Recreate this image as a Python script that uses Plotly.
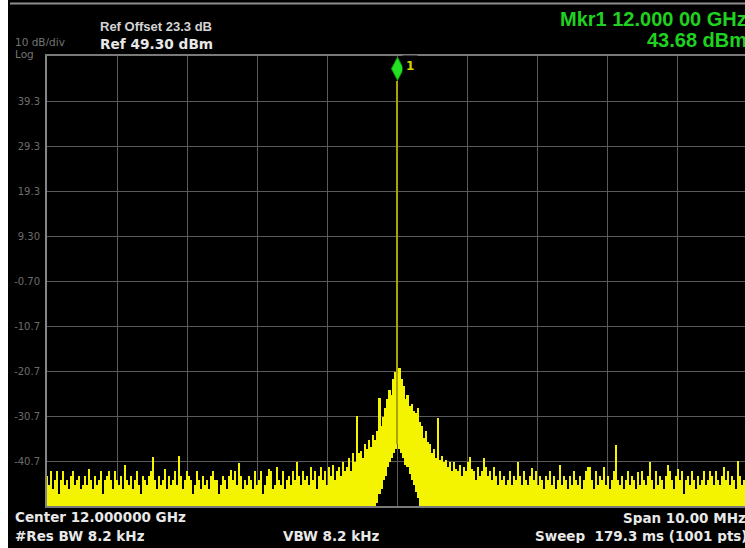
import plotly.graph_objects as go

# ---------------- data ----------------
center_ghz = 12.0
span_mhz = 10.0
ref_level_dbm = 49.30
bottom_level_dbm = -50.70
mkr_offset_mhz = 0.0
mkr_dbm = 43.68

ytick_vals = [39.3, 29.3, 19.3, 9.3, -0.7, -10.7, -20.7, -30.7, -40.7]
ytick_text = ["39.3", "29.3", "19.3", "9.30", "-0.70", "-10.7", "-20.7", "-30.7", "-40.7"]

# per display column: highest level reached by the trace (dBm)
trace_max_dbm = [
    -44, -46, -43, -47, -45, -43, -48, -45, -43, -46,      # 0
    -45, -47, -44, -43, -46, -45, -44, -47, -46, -44,      # 10
    -46, -42.4, -45, -47, -44, -46, -45, -43, -48, -45,    # 20
    -44, -43, -45, -47, -43, -45, -46, -44, -47, -41.6,    # 30
    -45, -46, -44, -47, -45, -43, -46, -48, -44, -45,      # 40
    -46, -44, -43, -39.8, -45, -47, -44, -46, -45, -42.4,  # 50
    -47, -44, -46, -45, -43, -46, -39.5, -44, -47, -45,    # 60
    -43, -44, -45, -48, -46, -43, -45, -47, -44, -46,      # 70
    -45, -47, -44, -43, -45, -45, -48, -46, -44, -45,      # 80
    -47, -44, -42.6, -45, -43, -46, -41.2, -44, -47, -45,  # 90
    -46, -44, -45, -47, -43, -46, -45, -43, -48, -46,      # 100
    -44, -42.4, -43, -47, -46, -42, -45, -46, -43, -47,    # 110
    -45, -44, -46, -43, -45, -41, -44, -46, -43, -45,      # 120
    -44, -46, -42, -45, -43, -47, -44, -42, -45, -43,      # 130
    -46, -42, -44, -41.5, -45, -43, -42, -44, -41, -43,    # 140
    -42, -40, -43, -39, -41, -30.7, -39, -38.5, -40, -37,  # 150
    -38, -36, -37.5, -35, -36, -34, -26.7, -33, -31, -29,  # 160
    -27, -25, -26, -22.5, -21, 43.68, -20, -22.5, -24, -27,  # 170
    -26, -28.5, -28, -29.5, -30, -29, -32, -33, -35.5, -34,  # 180
    -36.5, -37, -39, -38, -40, -31.2, -40.5, -39.5, -41, -40.5,  # 190
    -42, -41, -43, -40.9, -42.5, -43, -41.5, -44, -42, -43,  # 200
    -41, -39.8, -42.5, -43, -45, -42, -44, -43, -40, -42,  # 210
    -44, -43, -45, -42, -44, -46, -43, -45, -44, -46,      # 220
    -45, -43, -46, -44, -45, -40.9, -44, -46, -43, -45,    # 230
    -46, -44, -42.3, -45, -43, -46, -44, -45, -47, -44,    # 240
    -45, -43, -46, -44, -47, -45, -41.6, -46, -44, -45,    # 250
    -47, -44, -46, -43, -45, -46, -44, -47, -45, -43,      # 260
    -42, -42, -45, -47, -43, -46, -44, -45, -42, -46,      # 270
    -44, -47, -45, -43, -37.1, -45, -46, -44, -47, -45,    # 280
    -43, -46, -44, -45, -47, -43.1, -46, -43, -45, -46,    # 290
    -44, -40.9, -45, -47, -43, -46, -44, -45, -47, -44,    # 300
    -41.6, -43, -45, -47, -44, -42.5, -45, -43, -48, -45,  # 310
    -44, -46, -43, -45, -47, -44, -46, -45, -43, -46,      # 320
    -45, -43, -44, -46, -43, -45, -46, -44, -42, -45,      # 330
    -43, -46, -44, -45, -47, -40.7, -44, -46, -45, -43,    # 340
    -46,                                                   # 350
]

# per display column: lowest level reached by the trace (dBm); -60 = below screen
trace_min_dbm = [
    -60, -60, -60, -60, -60, -60, -60, -60, -60, -60,   # 0
    -60, -60, -60, -60, -60, -60, -60, -60, -60, -60,   # 10
    -60, -60, -60, -60, -60, -60, -60, -60, -60, -60,   # 20
    -60, -60, -60, -60, -60, -60, -60, -60, -60, -60,   # 30
    -60, -60, -60, -60, -60, -60, -60, -60, -60, -60,   # 40
    -60, -60, -60, -60, -60, -60, -60, -60, -60, -60,   # 50
    -60, -60, -60, -60, -60, -60, -60, -60, -60, -60,   # 60
    -60, -60, -60, -60, -60, -60, -60, -60, -60, -60,   # 70
    -60, -60, -60, -60, -60, -60, -60, -60, -60, -60,   # 80
    -60, -60, -60, -60, -60, -60, -60, -60, -60, -60,   # 90
    -60, -60, -60, -60, -60, -60, -60, -60, -60, -60,   # 100
    -60, -60, -60, -60, -60, -60, -60, -60, -60, -60,   # 110
    -60, -60, -60, -60, -60, -60, -60, -60, -60, -60,   # 120
    -60, -60, -60, -60, -60, -60, -60, -60, -60, -60,   # 130
    -60, -60, -60, -60, -60, -60, -60, -60, -60, -60,   # 140
    -60, -60, -60, -60, -60, -60, -60, -60, -60, -60,   # 150
    -60, -60, -60, -60, -52, -50, -48, -47, -45, -44,   # 160
    -42, -41, -40, -39, -38, -37, -38, -39, -40, -41.5, # 170
    -42, -43.5, -45, -46, -47.5, -49, -51, -60, -60, -60,  # 180
    -60, -60, -60, -60, -60, -60, -60, -60, -60, -60,   # 190
    -60, -60, -60, -60, -60, -60, -60, -60, -60, -60,   # 200
    -60, -60, -60, -60, -60, -60, -60, -60, -60, -60,   # 210
    -60, -60, -60, -60, -60, -60, -60, -60, -60, -60,   # 220
    -60, -60, -60, -60, -60, -60, -60, -60, -60, -60,   # 230
    -60, -60, -60, -60, -60, -60, -60, -60, -60, -60,   # 240
    -60, -60, -60, -60, -60, -60, -60, -60, -60, -60,   # 250
    -60, -60, -60, -60, -60, -60, -60, -60, -60, -60,   # 260
    -60, -60, -60, -60, -60, -60, -60, -60, -60, -60,   # 270
    -60, -60, -60, -60, -60, -60, -60, -60, -60, -60,   # 280
    -60, -60, -60, -60, -60, -60, -60, -60, -60, -60,   # 290
    -60, -60, -60, -60, -60, -60, -60, -60, -60, -60,   # 300
    -60, -60, -60, -60, -60, -60, -60, -60, -60, -60,   # 310
    -60, -60, -60, -60, -60, -60, -60, -60, -60, -60,   # 320
    -60, -60, -60, -60, -60, -60, -60, -60, -60, -60,   # 330
    -60, -60, -60, -60, -60, -60, -60, -60, -60, -60,   # 340
    -60,                                                # 350
]

header_left = ["10 dB/div", "Log"]
header_ref = ["Ref Offset 23.3 dB", "Ref 49.30 dBm"]
header_mkr = ["Mkr1 12.000 00 GHz", "43.68 dBm"]
footer_texts = ["Center 12.000000 GHz", "#Res BW 8.2 kHz", "VBW 8.2 kHz",
                "Span 10.00 MHz", "Sweep\u00a0\u00a0179.3 ms (1001 pts)"]

# ---------------- figure ----------------
W, H = 745, 548
L, R, T, B = 47, 0, 56, 42
PW, PH = W - L - R, H - T - B

n_cols = len(trace_max_dbm)
col_w = span_mhz / (n_cols - 1)
freq_mhz = [-span_mhz / 2 + i * col_w for i in range(n_cols)]
heights = [hi - lo for hi, lo in zip(trace_max_dbm, trace_min_dbm)]
YELLOW = "#f4f400"
OLIVE = "#aaa400"
colors = [OLIVE if hi > 0 else YELLOW for hi in trace_max_dbm]
widths = [col_w * 0.8 if hi > 0 else col_w * 1.02 for hi in trace_max_dbm]

fig = go.Figure()
fig.add_trace(go.Bar(
    x=freq_mhz, y=heights, base=trace_min_dbm, width=widths,
    marker=dict(color=colors, line=dict(width=0)),
    hoverinfo="skip",
))

px_per_mhz = 70.1
x_right = -span_mhz / 2 + PW / px_per_mhz

GRID = "#5a5a5a"
fig.update_xaxes(
    range=[-span_mhz / 2, x_right], tick0=-span_mhz / 2, dtick=1,
    showgrid=True, gridcolor=GRID, gridwidth=1.2,
    showticklabels=False, ticks="", zeroline=False,
    showline=True, linecolor="#7a7a7a", linewidth=2, mirror=True,
    layer="below traces",
)
fig.update_yaxes(
    range=[bottom_level_dbm, ref_level_dbm],
    tickvals=ytick_vals, ticktext=ytick_text,
    showgrid=True, gridcolor=GRID, gridwidth=1.2,
    ticks="", zeroline=False, ticklabelstandoff=3,
    tickfont=dict(family="DejaVu Sans", size=10, color="#6c6c6c"),
    showline=True, linecolor="#858585", linewidth=2, mirror=False,
    layer="below traces",
)


def px_x(x):
    return (x - L) / PW


def px_y(y):
    return 1 - (y - T) / PH


def ann(x, y, text, size, color, family, anchor="left", h=None):
    d = dict(xref="paper", yref="paper", x=px_x(x), y=px_y(y), text=text,
             showarrow=False, xanchor=anchor, yanchor="middle",
             borderpad=0, font=dict(size=size, color=color, family=family))
    if h is not None:
        d["height"] = h
    return d


GREEN = "#1fd21f"
WHITE = "#e8e8e8"
annotations = [
    ann(14, 41.5, header_left[0], 10.5, "#747474", "DejaVu Sans", h=9),
    ann(14, 53, header_left[1], 10.5, "#747474", "DejaVu Sans", h=13),
    ann(99, 27, "<b>" + header_ref[0] + "</b>", 13, "#d4d4d4", "Liberation Sans", h=13),
    ann(99, 43.5, "<b>" + header_ref[1] + "</b>", 13.7, WHITE, "DejaVu Sans", h=14),
    ann(559, 18.5, "<b>" + header_mkr[0] + "</b>", 20, GREEN, "Liberation Sans", h=17),
    ann(646, 39, "<b>" + header_mkr[1] + "</b>", 20, GREEN, "Liberation Sans", h=17),
    ann(14, 516.5, "<b>" + footer_texts[0] + "</b>", 13.5, WHITE, "DejaVu Sans", h=15),
    ann(14, 535, "<b>" + footer_texts[1] + "</b>", 13.5, WHITE, "DejaVu Sans", h=15),
    ann(282, 535, "<b>" + footer_texts[2] + "</b>", 13.5, WHITE, "DejaVu Sans", h=15),
    ann(622, 517, "<b>" + footer_texts[3] + "</b>", 13.5, WHITE, "DejaVu Sans", h=15),
    ann(534, 535, "<b>" + footer_texts[4] + "</b>", 13.5, WHITE, "DejaVu Sans", h=15),
    # marker number label
    dict(xref="x", yref="y", x=mkr_offset_mhz, y=mkr_dbm, text="<b>1</b>",
         showarrow=False, xanchor="center", yanchor="middle",
         xshift=12, yshift=15, bgcolor="black", borderpad=3,
         font=dict(size=12, color="#d6d600", family="DejaVu Sans")),
]

shapes = [
    # white strip at the far left of the screenshot
    dict(type="rect", xref="paper", yref="paper", layer="above",
         x0=px_x(-2), x1=px_x(8), y0=px_y(H + 2), y1=px_y(-2),
         fillcolor="white", line=dict(width=0)),
    # gray frame line at the top of the screen
    dict(type="line", xref="paper", yref="paper", layer="above",
         x0=px_x(10), x1=px_x(W + 2), y0=px_y(3.5), y1=px_y(3.5),
         line=dict(color="#8e8e8e", width=2)),
    # marker diamond, anchored at the marker point, drawn in pixels above it
    dict(type="path", xref="x", yref="y", xsizemode="pixel", ysizemode="pixel",
         xanchor=mkr_offset_mhz, yanchor=mkr_dbm,
         path="M0,1 L6,12.5 L0,24 L-6,12.5 Z",
         fillcolor="#22e022", line=dict(color="#10a010", width=1), layer="above"),
]

fig.update_layout(
    width=W, height=H,
    margin=dict(l=L, r=R, t=T, b=B, pad=0),
    paper_bgcolor="black", plot_bgcolor="black",
    showlegend=False, bargap=0,
    annotations=annotations, shapes=shapes,
)

fig.write_html("out.html")
